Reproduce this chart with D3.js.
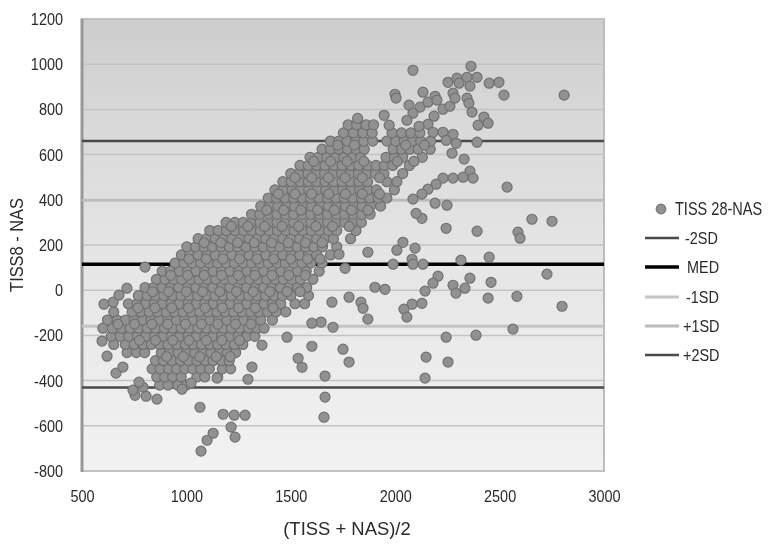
<!DOCTYPE html>
<meta charset="utf-8">
<script src="https://d3js.org/d3.v7.min.js"></script>
<style>
  body { margin: 0; background: white; }
  svg { filter: blur(0.45px); }
  text { font-family: "Liberation Sans", sans-serif; fill: #2a2a2a; }
</style>
<div id="my_dataviz"></div>
<script>
// tick labels
const xTicks = [500, 1000, 1500, 2000, 2500, 3000];
const yTicks = [-800, -600, -400, -200, 0, 200, 400, 600, 800, 1000, 1200];

// reference lines, same order as the legend
const lineNames = ["-2SD", "MED", "-1SD", "+1SD", "+2SD"];
const lineValues = [-430, 115, -159, 398, 660];

// the dense part of the cloud, read row by row
const denseDiffs = [-420, -384, -348, -312, -276, -240, -204, -168, -132, -96, -60, -24, 12, 48, 84, 120, 156, 192, 228, 264, 300, 336, 372, 408, 444, 480, 516, 552, 588, 624, 660, 696, 732, 760];
const denseMeans = [
  [872, 912, 958, 1000],
  [858, 896, 934, 975, 1050, 1088, 1150],
  [836, 874, 915, 952, 992, 1030, 1068, 1110, 1172, 1212],
  [852, 890, 930, 972, 1010, 1050, 1090, 1128, 1168, 1205],
  [716, 760, 800, 880, 918, 960, 1000, 1040, 1078, 1118, 1158, 1196, 1236],
  [652, 708, 750, 792, 832, 872, 912, 955, 995, 1032, 1072, 1112, 1150, 1190, 1230, 1270],
  [640, 682, 724, 765, 805, 848, 888, 928, 968, 1008, 1048, 1088, 1128, 1168, 1208, 1248, 1290, 1328],
  [600, 645, 690, 730, 772, 812, 852, 895, 935, 975, 1015, 1055, 1096, 1136, 1176, 1216, 1256, 1298, 1338, 1372],
  [622, 668, 708, 750, 790, 830, 870, 912, 952, 992, 1032, 1072, 1114, 1154, 1194, 1234, 1274, 1316, 1356, 1412],
  [652, 740, 782, 822, 862, 904, 944, 984, 1024, 1064, 1106, 1146, 1186, 1226, 1266, 1308, 1348, 1388, 1430, 1476],
  [722, 764, 804, 846, 886, 926, 966, 1008, 1048, 1088, 1128, 1170, 1210, 1250, 1290, 1332, 1372, 1412, 1452, 1520, 1566],
  [770, 812, 852, 892, 934, 974, 1014, 1054, 1096, 1136, 1176, 1216, 1258, 1298, 1338, 1378, 1420, 1460, 1500, 1585],
  [802, 842, 884, 924, 964, 1006, 1046, 1086, 1126, 1168, 1208, 1248, 1288, 1330, 1370, 1410, 1450, 1492, 1532, 1576],
  [856, 898, 938, 978, 1020, 1060, 1100, 1140, 1182, 1222, 1262, 1302, 1344, 1384, 1424, 1464, 1506, 1546, 1606],
  [884, 924, 966, 1006, 1046, 1088, 1128, 1168, 1208, 1250, 1290, 1330, 1370, 1412, 1452, 1492, 1532, 1574, 1636],
  [946, 988, 1028, 1068, 1110, 1150, 1190, 1230, 1272, 1312, 1352, 1392, 1434, 1474, 1514, 1554, 1596, 1650],
  [976, 1016, 1056, 1098, 1138, 1178, 1218, 1260, 1300, 1340, 1380, 1422, 1462, 1502, 1542, 1584, 1624, 1690],
  [1002, 1044, 1084, 1124, 1166, 1206, 1246, 1286, 1328, 1368, 1408, 1448, 1490, 1530, 1570, 1610, 1652, 1720],
  [1056, 1096, 1138, 1178, 1218, 1258, 1300, 1340, 1380, 1420, 1462, 1502, 1542, 1582, 1624, 1664, 1704, 1786],
  [1112, 1152, 1192, 1234, 1274, 1314, 1354, 1396, 1436, 1476, 1516, 1558, 1598, 1638, 1680, 1720, 1812],
  [1190, 1232, 1272, 1312, 1352, 1394, 1434, 1474, 1514, 1556, 1596, 1636, 1676, 1718, 1758, 1798, 1838],
  [1312, 1352, 1394, 1434, 1474, 1514, 1556, 1596, 1636, 1676, 1718, 1758, 1798, 1840, 1880],
  [1356, 1396, 1438, 1478, 1518, 1558, 1600, 1640, 1680, 1720, 1762, 1802, 1842, 1882, 1930],
  [1392, 1432, 1472, 1514, 1554, 1594, 1634, 1676, 1716, 1756, 1796, 1838, 1878, 1918, 1960],
  [1424, 1464, 1506, 1546, 1586, 1626, 1668, 1708, 1748, 1788, 1830, 1870, 1910, 1996],
  [1462, 1502, 1544, 1584, 1624, 1664, 1706, 1746, 1786, 1826, 1868, 1960, 2008],
  [1500, 1540, 1582, 1622, 1662, 1702, 1744, 1784, 1824, 1864, 1906, 1946, 2036],
  [1544, 1584, 1624, 1664, 1706, 1746, 1786, 1826, 1868, 1908, 1948, 1988, 2068],
  [1592, 1632, 1672, 1714, 1754, 1794, 1834, 1956, 1996, 2036, 2130],
  [1650, 1690, 1730, 1772, 1812, 1852, 1990, 2030, 2070, 2110, 2168],
  [1690, 1730, 1770, 1810, 1850, 1892, 1960, 2002, 2042, 2082, 2122, 2170],
  [1752, 1800, 1846, 1890, 1985, 2030, 2075, 2118],
  [1775, 1815, 1860, 1896],
  [1820]
];

// points lying between those rows, where circles overlap
const betweenDiffs = [-294, -222, -150, -78, -6, 66, 138, 210, 282, 354, 426, 498, 570, 642];
const betweenMeans = [
  [905, 985, 1064, 1143, 1210],
  [775, 852, 935, 1012, 1095, 1170, 1255],
  [672, 752, 835, 910, 995, 1072, 1150, 1235, 1310],
  [768, 850, 930, 1010, 1090, 1172, 1250, 1330, 1415],
  [838, 915, 1000, 1078, 1160, 1240, 1320, 1400, 1482, 1545],
  [925, 1006, 1085, 1168, 1248, 1328, 1410, 1490, 1570],
  [1012, 1095, 1175, 1255, 1338, 1418, 1500, 1580, 1640],
  [1085, 1165, 1245, 1325, 1408, 1488, 1570, 1650],
  [1215, 1295, 1375, 1458, 1538, 1620, 1700, 1780],
  [1385, 1466, 1548, 1628, 1708, 1790, 1870],
  [1440, 1520, 1600, 1682, 1762, 1842, 1925],
  [1520, 1600, 1680, 1760, 1842, 1925],
  [1610, 1690, 1770, 1850, 2010, 2090],
  [1725, 1805, 2050, 2140]
];

// scattered points outside the cloud
const looseMeans = [2085, 2363, 2253, 2296, 2344, 2392, 2306, 2358, 2450, 2497, 2521, 2809, 1999, 2004, 2133, 2191, 2066, 2119, 2157, 2200, 2229, 2262, 2277, 2286, 2344, 2353, 2368, 2425, 2397, 2445, 1947, 1971, 2085, 2056, 2186, 2157, 2114, 2181, 2229, 2277, 2244, 2292, 2392, 2272, 2330, 2358, 2373, 2325, 2277, 2229, 2196, 2157, 2128, 2085, 2536, 2191, 2248, 2244, 2392, 2588, 2598, 2655, 2751, 2450, 2315, 2095, 2037, 2008, 1869, 1990, 2081, 2085, 2133, 1760, 1731, 2727, 2459, 2358, 2205, 2181, 2143, 2277, 2291, 2334, 2445, 2583, 2799, 2128, 2081, 2042, 2056, 1903, 1951, 1779, 1836, 1846, 1869, 1697, 1702, 1645, 1601, 2564, 2387, 2244, 1601, 1750, 1779, 2148, 2253, 2143, 1664, 1664, 1659, 1554, 1535, 1070, 1099, 1128, 1065, 1176, 1229, 1281, 1214, 1233, 859, 807, 754, 744, 792, 773, 663, 696, 620, 596, 605, 649, 677, 715, 802, 1295, 1314, 1147, 979, 1022, 1362, 1482, 2128, 2100];
const looseDiffs = [973, 991, 920, 938, 942, 942, 916, 903, 916, 920, 863, 863, 867, 850, 876, 858, 819, 810, 832, 841, 801, 814, 872, 850, 850, 827, 788, 766, 730, 739, 774, 730, 783, 752, 770, 734, 725, 699, 699, 690, 663, 650, 655, 606, 580, 527, 496, 500, 496, 496, 469, 447, 425, 403, 456, 385, 376, 274, 261, 257, 230, 314, 305, 146, 133, 186, 212, 177, 168, 115, 137, 115, 115, 97, 159, 71, 35, 53, 62, 31, -4, 22, -13, 9, -35, -27, -71, -58, -62, -84, -119, 13, 4, -31, -53, -80, -128, -53, -164, -141, -146, -172, -199, -208, -248, -261, -318, -296, -318, -389, -380, -473, -562, -341, -301, -712, -664, -633, -518, -549, -553, -553, -606, -650, -482, -469, -465, -442, -429, -407, -367, -340, -292, -225, -62, -53, -22, 9, 102, -394, -340, -389, -438, -411, -243, -208, 318, 340];

const width = 771, height = 545;
const plotLeft = 82, plotRight = 604, plotTop = 19, plotBottom = 471;

const svg = d3.select("#my_dataviz")
  .append("svg")
    .attr("width", width)
    .attr("height", height)
    .style("display", "block");

// no narrow font is installed, so squeeze the glyphs to the reference width
function squeeze(selection, factor) {
  selection.each(function() {
    d3.select(this)
      .attr("textLength", this.getComputedTextLength() * factor)
      .attr("lengthAdjust", "spacingAndGlyphs");
  });
}

// background goes from darker at the top to pale at the bottom
const grad = svg.append("defs").append("linearGradient")
  .attr("id", "plotbg")
  .attr("x1", 0).attr("x2", 0).attr("y1", 0).attr("y2", 1);
grad.append("stop").attr("offset", "0%").attr("stop-color", "#cdcdcd");
grad.append("stop").attr("offset", "25%").attr("stop-color", "#dadada");
grad.append("stop").attr("offset", "55%").attr("stop-color", "#e6e6e6");
grad.append("stop").attr("offset", "100%").attr("stop-color", "#f2f2f2");

const x = d3.scaleLinear().domain([500, 3000]).range([plotLeft, plotRight]);
const y = d3.scaleLinear().domain([-800, 1200]).range([plotBottom, plotTop]);

svg.append("rect")
  .attr("x", plotLeft).attr("y", plotTop)
  .attr("width", plotRight - plotLeft).attr("height", plotBottom - plotTop)
  .attr("fill", "url(#plotbg)")
  .attr("stroke", "#bdbdbd")
  .attr("stroke-width", 2);

// horizontal gridlines
svg.append("g").selectAll("line")
  .data(yTicks)
  .join("line")
    .attr("x1", plotLeft).attr("x2", plotRight)
    .attr("y1", d => y(d)).attr("y2", d => y(d))
    .attr("stroke", "#c4c4c4")
    .attr("stroke-width", 1.5);

// thick left edge
svg.append("line")
  .attr("x1", plotLeft).attr("x2", plotLeft)
  .attr("y1", plotTop).attr("y2", plotBottom + 1)
  .attr("stroke", "#979797")
  .attr("stroke-width", 3);

// reference lines
const lineColor = d3.scaleOrdinal().domain(lineNames).range(["#4a4a4a", "#000000", "#c4c4c4", "#bcbcbc", "#4a4a4a"]);
const lineWidth = d3.scaleOrdinal().domain(lineNames).range([2.5, 3.5, 3, 3, 2.5]);

svg.append("g").selectAll("line")
  .data(lineNames)
  .join("line")
    .attr("x1", plotLeft).attr("x2", plotRight)
    .attr("y1", (d, i) => y(lineValues[i])).attr("y2", (d, i) => y(lineValues[i]))
    .attr("stroke", d => lineColor(d))
    .attr("stroke-width", d => lineWidth(d));

// points
const points = denseDiffs.flatMap((diff, i) => denseMeans[i].map(mean => [mean, diff]))
  .concat(betweenDiffs.flatMap((diff, i) => betweenMeans[i].map(mean => [mean, diff])))
  .concat(looseMeans.map((mean, i) => [mean, looseDiffs[i]]));

svg.append("g").selectAll("circle")
  .data(points)
  .join("circle")
    .attr("cx", d => x(d[0]))
    .attr("cy", d => y(d[1]))
    .attr("r", 5)
    .attr("fill", "#919191")
    .attr("stroke", "#717171")
    .attr("stroke-width", 1.2);

// axes, labels only
const xAxis = svg.append("g")
  .attr("transform", `translate(0, ${plotBottom})`)
  .call(d3.axisBottom(x).tickValues(xTicks).tickSize(0).tickPadding(19).tickFormat(d3.format("d")));
const yAxis = svg.append("g")
  .attr("transform", `translate(${plotLeft}, 0)`)
  .call(d3.axisLeft(y).tickValues(yTicks).tickSize(0).tickPadding(19).tickFormat(d => d3.format("d")(d).replace("\u2212", "-")));
xAxis.select(".domain").remove();
yAxis.select(".domain").remove();
svg.selectAll(".tick text")
  .attr("font-size", 17)
  .style("font-family", '"Liberation Sans", sans-serif')
  .attr("fill", "#2a2a2a")
  .call(squeeze, 0.85);

svg.append("text")
  .attr("x", 347).attr("y", 535)
  .attr("text-anchor", "middle")
  .attr("font-size", 19)
  .text("(TISS + NAS)/2")
  .call(squeeze, 0.97);

svg.append("text")
  .attr("transform", "translate(17, 245) rotate(-90)")
  .attr("text-anchor", "middle")
  .attr("dy", "0.35em")
  .attr("font-size", 18)
  .text("TISS8 - NAS")
  .call(squeeze, 0.91);

// legend
svg.append("circle")
  .attr("cx", 661).attr("cy", 209)
  .attr("r", 4.8)
  .attr("fill", "#919191")
  .attr("stroke", "#767676")
  .attr("stroke-width", 1.2);
svg.append("text")
  .attr("transform", "translate(675, 215) scale(0.83, 1)")
  .attr("font-size", 17.5)
  .text("TISS 28-NAS");

const legendY = [238, 267, 297, 326, 355];
const legendTextX = [685, 687, 686, 683, 683];
const legend = svg.append("g").selectAll("g")
  .data(lineNames)
  .join("g")
    .attr("transform", (d, i) => `translate(0, ${legendY[i]})`);
legend.append("line")
  .attr("x1", 645).attr("x2", 679)
  .attr("stroke", d => lineColor(d))
  .attr("stroke-width", d => lineWidth(d));
legend.append("text")
  .attr("x", (d, i) => legendTextX[i])
  .attr("y", 6)
  .attr("font-size", 17)
  .text(d => d)
  .call(squeeze, 0.85);
</script>
